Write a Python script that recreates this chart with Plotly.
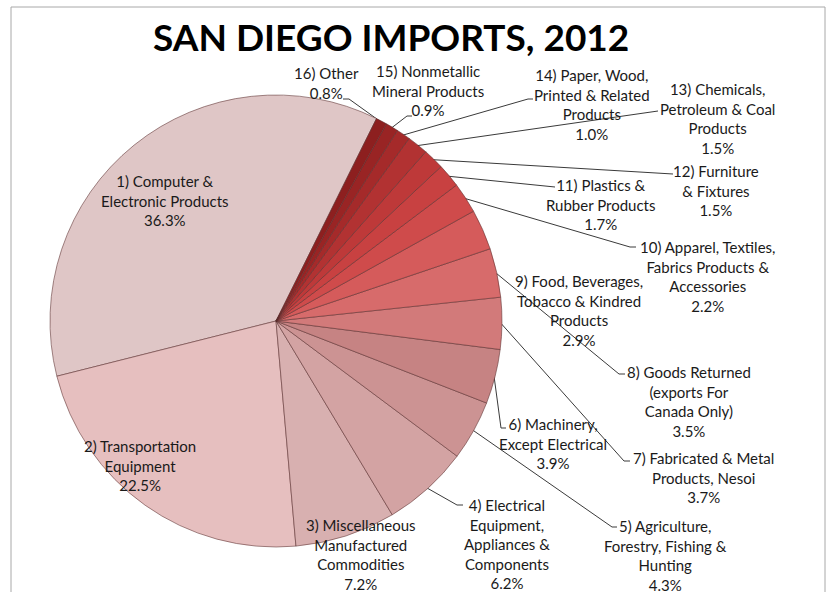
import numpy as np
import plotly.graph_objects as go

# ---------------- data ----------------
categories = [
    "1) Computer &<br>Electronic Products",
    "2) Transportation<br>Equipment",
    "3) Miscellaneous<br>Manufactured<br>Commodities",
    "4) Electrical<br>Equipment,<br>Appliances &<br>Components",
    "5) Agriculture,<br>Forestry, Fishing &<br>Hunting",
    "6) Machinery,<br>Except Electrical",
    "7) Fabricated & Metal<br>Products, Nesoi",
    "8) Goods Returned<br>(exports For<br>Canada Only)",
    "9) Food, Beverages,<br>Tobacco & Kindred<br>Products",
    "10) Apparel, Textiles,<br>Fabrics Products &<br>Accessories",
    "11) Plastics &<br>Rubber Products",
    "12) Furniture<br>& Fixtures",
    "13) Chemicals,<br>Petroleum & Coal<br>Products",
    "14) Paper, Wood,<br>Printed & Related<br>Products",
    "15) Nonmetallic<br>Mineral Products",
    "16) Other",
]
shares = [36.3, 22.5, 7.2, 6.2, 4.3, 3.9, 3.7, 3.5, 2.9, 2.2, 1.7, 1.5, 1.5, 1.0, 0.9, 0.8]
title_text = "SAN DIEGO IMPORTS, 2012"

# ---------------- style / layout ----------------
W, H = 827, 592
CX, CY, R = 276, 321, 226          # pie centre & radius (px)
START_CW = 26.4                     # first slice starts here (deg clockwise from 12 o'clock), runs counterclockwise
colors = ["#dfc6c6", "#e6bfbf", "#d8b0b0", "#d3a3a3", "#cc9393", "#c68383",
          "#d27a7a", "#d76b6b", "#d55b5b", "#cf4b4b", "#c84141", "#be3939",
          "#b23232", "#a52a2a", "#992424", "#8d1f1f"]
# label block centres (px)
label_pos = [(165, 200), (140, 465), (361, 554), (507, 544), (665, 555),
             (553, 443), (703, 477), (689, 401), (579, 310), (707, 276),
             (600, 204), (716, 190), (717, 118), (592, 104), (428, 90), (326, 83)]
# leader end points (px) and tick direction/length, per slice index
leaders = {3: (457, 505, 6), 4: (612, 527, 5), 5: (501, 428, 5), 6: (624, 461, 6),
           7: (619, 374, 6), 9: (630, 247, 6), 10: (551, 187, 4), 11: (670, 174, 3),
           12: (654, 111, 4), 13: (528, 99, 5), 14: (407, 116, 5), 15: (349, 99, -6)}
FONT = "Lato, Calibri, Arial, sans-serif"

total = float(np.sum(shares))
# plotly (counterclockwise) places the first slice clockwise of `rotation`
rotation = START_CW - 360.0 * shares[0] / total

fig = go.Figure()

fig.add_trace(go.Pie(
    values=shares,
    labels=[c.replace("<br>", " ") for c in categories],
    sort=False,
    direction="counterclockwise",
    rotation=rotation,
    textinfo="none",
    hoverinfo="label+percent",
    marker=dict(colors=colors, line=dict(color="rgba(90,45,45,0.55)", width=1)),
    domain=dict(x=[(CX - R) / W, (CX + R) / W], y=[1 - (CY + R) / H, 1 - (CY - R) / H]),
    showlegend=False,
))

# leader lines computed from slice mid-angles
cum = np.cumsum([0] + shares[:-1])
lx, ly = [], []
for i, v in enumerate(shares):
    if i not in leaders:
        continue
    ang = np.deg2rad(90 - START_CW + 360.0 * (cum[i] + v / 2) / total)
    rx = CX + (R - 1) * np.cos(ang)
    ry = CY - (R - 1) * np.sin(ang)
    ex, ey, t = leaders[i]
    lx += [rx, ex, ex + t, None]
    ly += [ry, ey, ey, None]
fig.add_trace(go.Scatter(x=lx, y=ly, mode="lines", line=dict(color="#3a3a3a", width=1),
                         hoverinfo="skip", showlegend=False))

for i, (txt, v) in enumerate(zip(categories, shares)):
    x, y = label_pos[i]
    fig.add_annotation(x=x, y=y, xref="x", yref="y", text=f"{txt}<br>{v:.1f}%",
                       showarrow=False, align="center", xanchor="center", yanchor="middle",
                       font=dict(family=FONT, size=15, color="#1a1a1a"))

fig.add_annotation(x=391, y=36, xref="x", yref="y", text=f"<b>{title_text}</b>",
                   showarrow=False, xanchor="center", yanchor="middle",
                   font=dict(family=FONT, size=37, color="#000000"))

fig.add_shape(type="rect", xref="x", yref="y", x0=11, y0=7, x1=825, y1=600,
              line=dict(color="#a8a8a8", width=1), fillcolor="rgba(0,0,0,0)", layer="below")

fig.update_layout(
    width=W, height=H,
    margin=dict(l=0, r=0, t=0, b=0),
    paper_bgcolor="white", plot_bgcolor="rgba(0,0,0,0)",
    xaxis=dict(range=[0, W], visible=False, fixedrange=True),
    yaxis=dict(range=[H, 0], visible=False, fixedrange=True),
)

fig.write_html("out.html")
